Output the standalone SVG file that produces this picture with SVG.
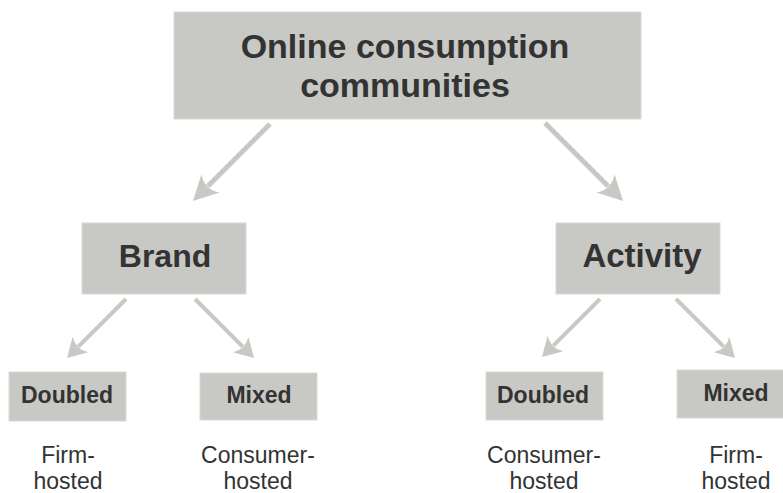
<svg xmlns="http://www.w3.org/2000/svg" width="783" height="493" viewBox="0 0 783 493">
<style>
.box{fill:#c8c8c4;stroke:#dadad6;stroke-width:1}
.t{font-family:"Liberation Sans",Arial,sans-serif;fill:#333333;text-anchor:middle}
.b{font-weight:bold}
.lbl{font-size:23px}
.big{stroke:#c8c8c4;stroke-width:5;fill:none}
.sm{stroke:#c8c8c4;stroke-width:4;fill:none}
</style>
<defs>
<marker id="hb" markerUnits="userSpaceOnUse" orient="auto" markerWidth="40" markerHeight="40" refX="0" refY="0" viewBox="-10 -20 40 40" overflow="visible">
<path d="M-4,-13 L21,0 L-4,13 Q5,0 -4,-13 Z" fill="#c8c8c4"/>
</marker>
<marker id="hs" markerUnits="userSpaceOnUse" orient="auto" markerWidth="30" markerHeight="30" refX="0" refY="0" viewBox="-10 -15 30 30" overflow="visible">
<path d="M-3,-11 L16,0 L-3,11 Q4,0 -3,-11 Z" fill="#c8c8c4"/>
</marker>
</defs>
<g id="connectors">
<line class="big" x1="270" y1="124" x2="207.8" y2="186.2" marker-end="url(#hb)"/>
<line class="big" x1="545" y1="123" x2="608.2" y2="186.2" marker-end="url(#hb)"/>
<line class="sm" x1="126" y1="299" x2="78.3" y2="346.7" marker-end="url(#hs)"/>
<line class="sm" x1="195" y1="299" x2="242.7" y2="346.7" marker-end="url(#hs)"/>
<line class="sm" x1="600" y1="299" x2="553.3" y2="345.7" marker-end="url(#hs)"/>
<line class="sm" x1="676" y1="299" x2="723.7" y2="346.7" marker-end="url(#hs)"/>
</g>
<g id="root">
<rect class="box" x="174" y="12" width="467" height="107"/>
<text class="t b" x="405" y="58" font-size="34">Online consumption</text>
<text class="t b" x="405" y="97" font-size="34">communities</text>
</g>
<g id="brand">
<rect class="box" x="82" y="223" width="164" height="71"/>
<text class="t b" x="165" y="267" font-size="32">Brand</text>
</g>
<g id="activity">
<rect class="box" x="556" y="223" width="164" height="71"/>
<text class="t b" x="642" y="267" font-size="33">Activity</text>
</g>
<g id="brand-doubled">
<rect class="box" x="9" y="372" width="117" height="49"/>
<text class="t b" x="67" y="403" font-size="23">Doubled</text>
</g>
<g id="brand-mixed">
<rect class="box" x="200" y="373" width="117" height="47"/>
<text class="t b" x="259" y="403" font-size="23">Mixed</text>
</g>
<g id="activity-doubled">
<rect class="box" x="486" y="372" width="117" height="48"/>
<text class="t b" x="543" y="403" font-size="23">Doubled</text>
</g>
<g id="activity-mixed">
<rect class="box" x="677" y="370" width="107" height="48"/>
<text class="t b" x="736" y="401" font-size="23">Mixed</text>
</g>
<g id="label-brand-doubled">
<text class="t lbl" x="68" y="463">Firm-</text>
<text class="t lbl" x="68" y="489">hosted</text>
</g>
<g id="label-brand-mixed">
<text class="t lbl" x="258" y="463">Consumer-</text>
<text class="t lbl" x="258" y="489">hosted</text>
</g>
<g id="label-activity-doubled">
<text class="t lbl" x="544" y="463">Consumer-</text>
<text class="t lbl" x="544" y="489">hosted</text>
</g>
<g id="label-activity-mixed">
<text class="t lbl" x="736" y="463">Firm-</text>
<text class="t lbl" x="736" y="489">hosted</text>
</g>
</svg>
